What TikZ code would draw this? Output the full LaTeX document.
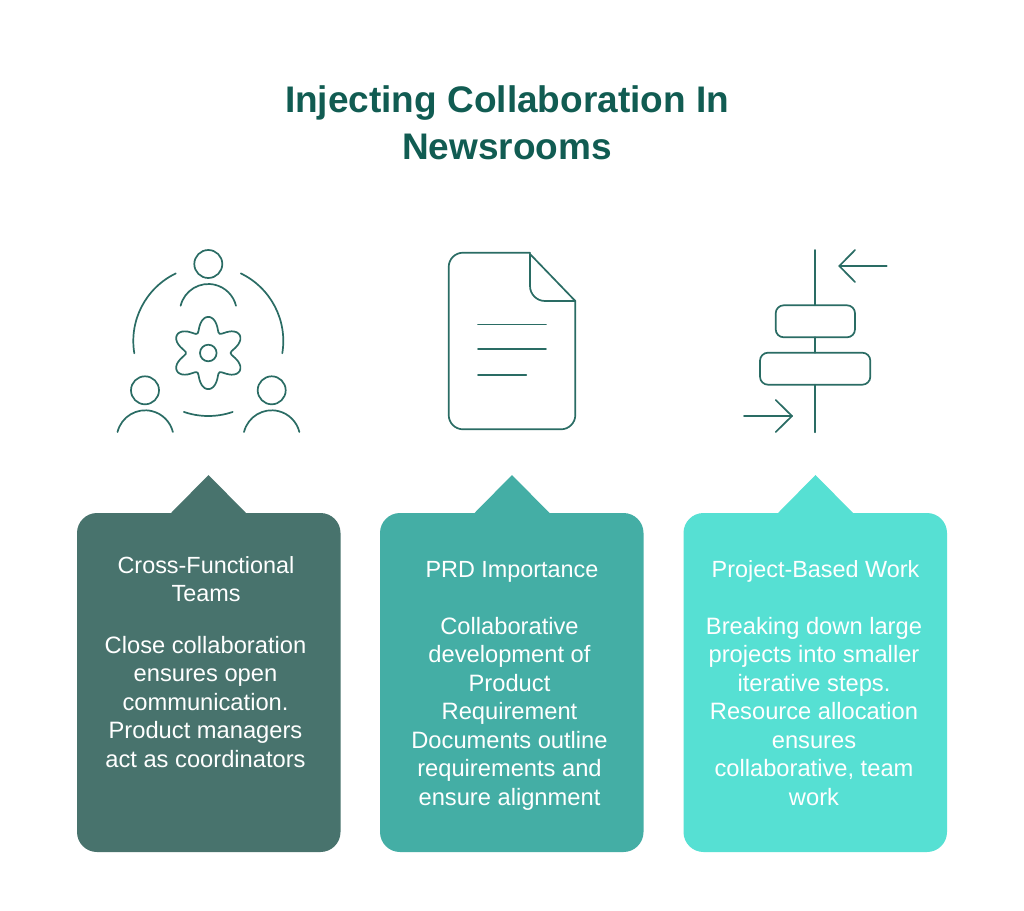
\documentclass[tikz,border=0pt]{standalone}
\usepackage{fontspec}
\setmainfont{Liberation Sans}
\definecolor{titlecol}{HTML}{115C52}
\definecolor{iconcol}{HTML}{2A6C64}
\definecolor{cardA}{HTML}{48736D}
\definecolor{cardB}{HTML}{44AEA5}
\definecolor{cardC}{HTML}{56E0D3}
\tikzset{
  icon/.style={draw=iconcol,line width=1.7pt,line cap=round,line join=round},
  titletext/.style={text=titlecol,font=\fontsize{37}{47}\selectfont\bfseries,align=center},
  cardtext/.style={text=white,font=\fontsize{23.7}{28.5}\selectfont,align=center,inner sep=0pt},
  cardhead/.style={text=white,font=\fontsize{23.4}{28.5}\selectfont,align=center,inner sep=0pt},
}
% In this picture y points down, so arc angles run clockwise on the page.
\newcommand{\cardpath}[3]{% left, tip x, colour
  \fill[#3] (#1+20,513) -- (#2-37.5,513) -- (#2,475) -- (#2+37.5,513) -- (#1+243.5,513)
    arc[start angle=-90,end angle=0,radius=20] -- (#1+263.5,832)
    arc[start angle=0,end angle=90,radius=20] -- (#1+20,852)
    arc[start angle=90,end angle=180,radius=20] -- (#1,533)
    arc[start angle=180,end angle=270,radius=20] -- cycle;
}
% centre x, centre y, radius, start, end: angles measured on the page, anticlockwise from east
\newcommand{\iconarc}[5]{%
  \draw[icon] (#1,#2) ++(-#4:#3) arc[start angle=-#4,end angle=-#5,radius=#3];
}
\begin{document}
\begin{tikzpicture}[x=1pt,y=-1pt]
\useasboundingbox (0,0) rectangle (1024,910);
\fill[white] (0,0) rectangle (1024,910);
\node[titletext] (title) at (507,122.7) {Injecting Collaboration In\\Newsrooms};
% cards
\cardpath{77}{208.5}{cardA}
\cardpath{380}{512}{cardB}
\cardpath{683.5}{815.5}{cardC}
% card text
\node[cardhead] (h1) at (206,579) {Cross-Functional\\Teams};
\node[cardtext] (b1) at (205.5,702) {Close collaboration\\ensures open\\communication.\\Product managers\\act as coordinators};
\node[cardhead] (h2) at (512,571.5) {PRD Importance};
\node[cardtext] (b2) at (509.5,713.5) {Collaborative\\development of\\Product\\Requirement\\Documents outline\\requirements and\\ensure alignment};
\node[cardhead] (h3) at (815.5,571.5) {Project-Based Work};
\node[cardtext] (b3) at (814,711.5) {Breaking down large\\projects into smaller\\iterative steps.\\Resource allocation\\ensures\\collaborative, team\\work};
% icon 1: people and gear
\draw[icon] (208.3,264) circle[radius=14];
\draw[icon] (145,390.3) circle[radius=14];
\draw[icon] (271.7,390.3) circle[radius=14];
\iconarc{208.3}{312.5}{28.5}{166.2}{13.8}
\iconarc{145.2}{438.8}{28.5}{166.2}{13.8}
\iconarc{271.7}{438.8}{28.5}{166.2}{13.8}
\iconarc{208.3}{341}{75}{189.4}{115.7}
\iconarc{208.3}{341}{75}{64.3}{-9.4}
\iconarc{208.3}{341}{75}{251}{289}
\draw[icon] plot[smooth cycle,samples=61,domain=0:354,variable=\t]
  ({208.3+(29.2-7*cos(6*\t))*cos(\t-1.8*sin(6*\t))},{353-(29.2-7*cos(6*\t))*sin(\t-1.8*sin(6*\t))});
\draw[icon] (208.3,353) circle[radius=8.3];
% icon 2: document
\draw[icon] (530,252.7) -- (463,252.7) arc[start angle=-90,end angle=-180,radius=14.3]
  -- (448.7,415) arc[start angle=180,end angle=90,radius=14.3]
  -- (561,429.3) arc[start angle=90,end angle=0,radius=14.3]
  -- (575.3,301) -- (530,254);
\draw[icon] (530,254) -- (530,286) arc[start angle=180,end angle=90,radius=15] -- (575.3,301);
\draw[icon] (478,324.5) -- (546,324.5);
\draw[icon] (478,349) -- (546,349);
\draw[icon] (478,375) -- (526.3,375);
% icon 3: timeline
\draw[icon] (815.3,250) -- (815.3,305.3);
\draw[icon] (815.3,337.3) -- (815.3,352.7);
\draw[icon] (815.3,384.7) -- (815.3,432.3);
\draw[icon,rounded corners=8] (775.7,305.3) rectangle (855,337.3);
\draw[icon,rounded corners=8] (760,352.7) rectangle (870.3,384.7);
\draw[icon] (886.7,266) -- (839.3,266);
\draw[icon] (855,250) -- (839.3,266) -- (855,282);
\draw[icon] (744,416) -- (792,416);
\draw[icon] (775.7,400) -- (792,416) -- (775.7,432);
\end{tikzpicture}
\end{document}
